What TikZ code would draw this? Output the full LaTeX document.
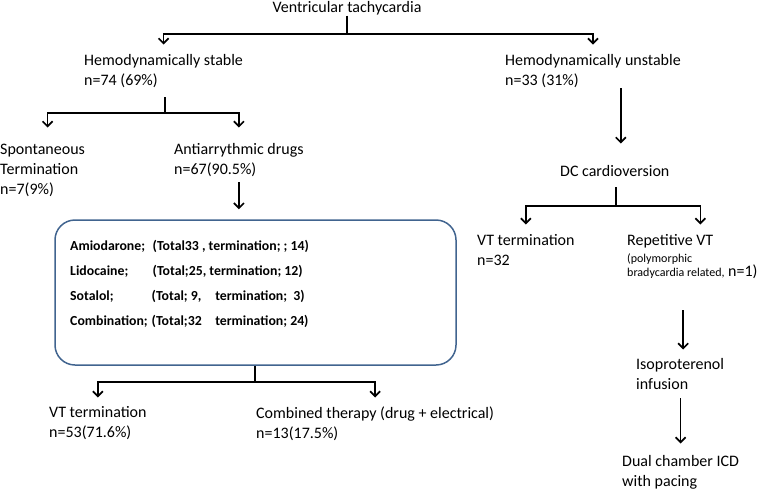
\documentclass[tikz,border=0pt]{standalone}
\usepackage{fontspec}
\setmainfont{Carlito}
\usetikzlibrary{arrows.meta}
\definecolor{boxblue}{HTML}{41648F}

\begin{document}
\begin{tikzpicture}[x=1pt, y=-1pt,
  txt/.style={anchor=north west, inner sep=0pt, align=left,
    font=\fontsize{16}{20}\selectfont},
  link/.style={line width=1.7pt},
  stem/.style={line width=2.6pt},
  arr/.style={line width=1.7pt, -{Straight Barb[length=5pt, width=10pt]}},
  drugbox/.style={draw=boxblue, line width=1.5pt, rounded corners=20pt,
    minimum width=401pt, minimum height=145pt},
  druglist/.style={anchor=north west, inner sep=0pt, align=left,
    font=\fontsize{13.8}{24.7}\selectfont\bfseries}]
  \useasboundingbox (0,0) rectangle (762,490);

  % left branch
  \node[txt, anchor=north] (vt) at (347,1.5) {Ventricular tachycardia};
  \node[txt] (stable) at (84,54.5) {Hemodynamically stable\\n=74 (69\%)};
  \node[txt] (unst) at (505,54.5) {Hemodynamically unstable\\n=33 (31\%)};
  \node[txt] (spont) at (0,143.5) {Spontaneous\\Termination\\n=7(9\%)};
  \node[txt] (anti) at (174,143.5) {Antiarrythmic drugs\\n=67(90.5\%)};
  \node[drugbox] (box) at (255.5,292.5) {};
  \node[druglist] (list) at (70,240.5) {%
    \makebox[82.5pt][l]{Amiodarone;}(Total33 , termination; ; 14)\\
    \makebox[82.5pt][l]{Lidocaine;}(Total;25, termination; 12)\\
    \makebox[81.5pt][l]{Sotalol;}\makebox[63.5pt][l]{(Total; 9,}termination;\ \ 3)\\
    \makebox[81.5pt][l]{Combination;}\makebox[63.5pt][l]{(Total;32}termination; 24)};
  \node[txt] (vtl) at (49,406.5) {VT termination\\n=53(71.6\%)};
  \node[txt] (comb) at (256,406.5) {Combined therapy (drug + electrical)\\n=13(17.5\%)};

  % right branch
  \node[txt] (dc) at (560,165.5) {DC cardioversion};
  \node[txt] (vtr) at (477,234.5) {VT termination\\n=32};
  \node[txt] (rep) at (627,234.5) {Repetitive VT\\[-3pt]
    {\fontsize{12}{13}\selectfont (polymorphic}\\[-6pt]
    {\fontsize{12}{13}\selectfont bradycardia related,} n=1)};
  \node[txt] (iso) at (636,358.5) {Isoproterenol\\infusion};
  \node[txt] (icd) at (622,455.5) {Dual chamber ICD\\with pacing};

  % connectors
  \coordinate (vtj) at (347,34);
  \draw[stem] (vt.south) -- (vtj);
  \draw[arr] (vtj) -| ([yshift=10pt]stable.north);
  \draw[arr] (vtj) -| ([yshift=10pt]unst.north);

  \coordinate (stj) at (165,113);
  \draw[stem] (stj |- 0,97) -- (stj);
  \draw[arr] (stj) -| ([xshift=5pt, yshift=16pt]spont.north);
  \draw[arr] (stj) -| ([yshift=16pt]anti.north);

  \draw[arr] ([yshift=-5pt]anti.south) -- ([yshift=10pt]box.north -| anti.south);

  \coordinate (bj) at (255,382);
  \draw[link] (box.south -| bj) -- (bj);
  \draw[arr] (bj) -| ([yshift=9pt]vtl.north);
  \draw[arr] (bj) -| ([yshift=9pt]comb.north);

  \draw[arr] ([xshift=6pt]dc.north |- unst.south) -- ([xshift=6pt, yshift=22pt]dc.north);

  \coordinate (dcj) at (616,206);
  \draw[link] (dcj |- 0,187) -- (dcj);
  \draw[arr] (dcj) -| ([yshift=10pt]vtr.north);
  \draw[arr] (dcj) -| ([xshift=8pt, yshift=10pt]rep.north);

  \coordinate (isotop) at ([xshift=3pt, yshift=9pt]iso.north);
  \draw[arr] (isotop |- 0,310) -- (isotop);
  \coordinate (icdtop) at ([yshift=12pt]icd.north);
  \draw[arr] (icdtop |- 0,398) -- (icdtop);
\end{tikzpicture}
\end{document}
